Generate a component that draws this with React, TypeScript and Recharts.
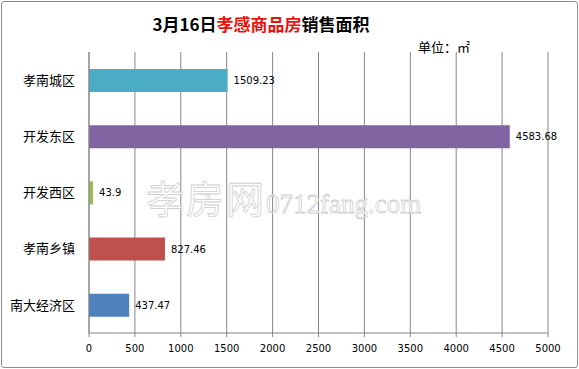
import { BarChart, Bar, XAxis, YAxis, CartesianGrid, Cell, LabelList } from 'recharts';

const categories = ['孝南城区', '开发东区', '开发西区', '孝南乡镇', '南大经济区'];
const areaValues = [1509.23, 4583.68, 43.9, 827.46, 437.47];
const barColors = ['#4BACC6', '#8064A2', '#9BBB59', '#C0504D', '#4F81BD'];
const xTicks = [0, 500, 1000, 1500, 2000, 2500, 3000, 3500, 4000, 4500, 5000];
const edgeTicks = [0, 1, 2, 3, 4, 5];

const data = categories.map((name, i) => ({ name, value: areaValues[i] }));

const cjk = '"Noto Sans CJK SC", "Noto Sans", sans-serif';
const num = '"DejaVu Sans", sans-serif';
const gridColor = '#868686';

const App = () => {
  return (
    <div
      style={{
        position: 'absolute',
        left: 0,
        top: 0,
        width: 579,
        height: 369,
        background: '#fff',
        fontFamily: cjk,
      }}
    >
      <div
        style={{
          position: 'absolute',
          left: 1,
          top: 1,
          width: 575,
          height: 365,
          border: '1px solid #8c8c8c',
          borderRadius: 3,
        }}
      />
      {/* 标题 */}
      <div
        style={{
          position: 'absolute',
          left: 0,
          top: 11,
          width: 522,
          textAlign: 'center',
          fontSize: 17,
          fontWeight: 'bold',
          lineHeight: '26px',
          color: '#000',
        }}
      >
        3月16日<span style={{ color: '#E8120C' }}>孝感商品房</span>销售面积
      </div>
      <div style={{ position: 'absolute', left: 418, top: 38, fontSize: 13, lineHeight: '18px' }}>
        单位：㎡
      </div>

      <BarChart
        width={579}
        height={369}
        data={data}
        layout="vertical"
        margin={{ top: 52, right: 31, bottom: 16, left: 0 }}
      >
        <CartesianGrid horizontal={false} stroke={gridColor} strokeDasharray="" />
        <XAxis
          type="number"
          domain={[0, 5000]}
          ticks={xTicks}
          interval={0}
          height={20}
          stroke={gridColor}
          tickSize={4}
          tickMargin={8}
          tick={{ fontSize: 10, fill: '#000', fontFamily: num }}
        />
        <YAxis
          yAxisId="edge"
          type="number"
          domain={[0, 5]}
          ticks={edgeTicks}
          reversed
          width={1}
          axisLine={false}
          tick={false}
          tickSize={4}
          stroke={gridColor}
        />
        <YAxis
          type="category"
          dataKey="name"
          width={88}
          stroke={gridColor}
          tickLine={false}
          tickSize={0}
          tickMargin={14}
          tick={{ fontSize: 13, fill: '#000', fontFamily: cjk }}
        />
        <Bar dataKey="value" barSize={23} isAnimationActive={false}>
          {data.map((d, i) => (
            <Cell key={d.name} fill={barColors[i]} />
          ))}
          <LabelList
            dataKey="value"
            position="right"
            offset={6}
            fill="#000"
            fontSize={10}
            fontFamily={num}
          />
        </Bar>
      </BarChart>

      {/* 水印 */}
      <div
        style={{
          position: 'absolute',
          left: 146,
          top: 172,
          whiteSpace: 'nowrap',
          color: 'rgba(255,255,255,0.85)',
          WebkitTextStroke: '0.8px #cfcfcf',
          pointerEvents: 'none',
          lineHeight: '50px',
        }}
      >
        <span style={{ fontSize: 38, fontFamily: cjk, letterSpacing: 2 }}>孝房网</span>
        <span style={{ fontSize: 27, fontFamily: '"Liberation Serif", serif' }}>0712fang.com</span>
      </div>
    </div>
  );
};

export default App;
